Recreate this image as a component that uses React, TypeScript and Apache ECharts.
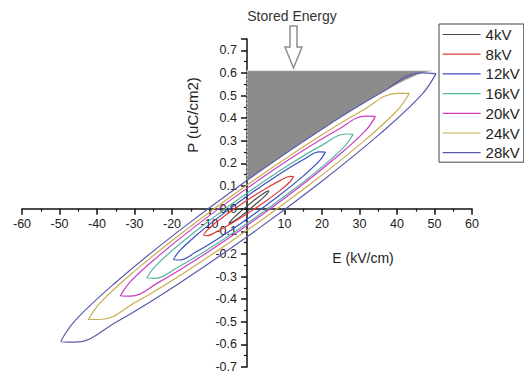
import React, { useEffect, useRef } from 'react';
import * as echarts from 'echarts';

// ---- Data (E in kV/cm, P in uC/cm2) ----
const voltages = ['4kV', '8kV', '12kV', '16kV', '20kV', '24kV', '28kV'];

const loop4kV = [[5.9,0.079],[5.49,0.078],[4.33,0.066],[2.6,0.046],[0.55,0.019],[-1.5,-0.01],[-3.23,-0.035],[-4.39,-0.055],[-4.8,-0.065],[-4.39,-0.064],[-3.23,-0.052],[-1.5,-0.032],[0.55,-0.005],[2.6,0.024],[4.33,0.049],[5.49,0.069],[5.9,0.079]];
const loop8kV = [[12.45,0.142],[11.54,0.143],[8.93,0.125],[5.05,0.089],[0.45,0.042],[-4.15,-0.01],[-8.03,-0.058],[-10.64,-0.096],[-11.55,-0.118],[-10.64,-0.119],[-8.03,-0.101],[-4.15,-0.065],[0.45,-0.018],[5.05,0.034],[8.93,0.082],[11.54,0.12],[12.45,0.142]];
const loop12kV = [[20.9,0.25],[19.36,0.251],[14.97,0.216],[8.41,0.15],[0.65,0.063],[-7.11,-0.032],[-13.67,-0.12],[-18.06,-0.188],[-19.6,-0.226],[-18.06,-0.227],[-13.67,-0.192],[-7.11,-0.126],[0.65,-0.039],[8.41,0.056],[14.97,0.144],[19.36,0.212],[20.9,0.25]];
const loop16kV = [[28.3,0.329],[26.21,0.33],[20.24,0.283],[11.33,0.195],[0.8,0.078],[-9.73,-0.049],[-18.64,-0.166],[-24.61,-0.257],[-26.7,-0.307],[-24.61,-0.308],[-18.64,-0.261],[-9.73,-0.173],[0.8,-0.056],[11.33,0.071],[20.24,0.188],[26.21,0.279],[28.3,0.329]];
const loop20kV = [[34.25,0.408],[31.67,0.409],[24.29,0.35],[13.27,0.239],[0.25,0.093],[-12.77,-0.065],[-23.79,-0.212],[-31.17,-0.324],[-33.75,-0.386],[-31.17,-0.387],[-23.79,-0.328],[-12.77,-0.217],[0.25,-0.071],[13.27,0.087],[24.29,0.234],[31.67,0.346],[34.25,0.408]];
const loop24kV = [[43.3,0.51],[40.05,0.51],[30.76,0.434],[16.89,0.294],[0.5,0.11],[-15.89,-0.089],[-29.76,-0.273],[-39.05,-0.414],[-42.3,-0.49],[-39.05,-0.49],[-29.76,-0.414],[-15.89,-0.274],[0.5,-0.09],[16.89,0.109],[30.76,0.293],[40.05,0.434],[43.3,0.51]];
const loop28kV = [[50.4,0.597],[46.6,0.6],[35.75,0.512],[19.55,0.347],[0.4,0.13],[-18.75,-0.106],[-34.95,-0.325],[-45.8,-0.494],[-49.6,-0.587],[-45.8,-0.59],[-34.95,-0.502],[-18.75,-0.337],[0.4,-0.12],[19.55,0.116],[35.75,0.335],[46.6,0.504],[50.4,0.597]];

const loops = [loop4kV, loop8kV, loop12kV, loop16kV, loop20kV, loop24kV, loop28kV];

// Stored energy region: bounded by P = Pmax, the P axis, and the upper branch of the 28kV loop
const storedEnergyBoundary = [[0,0.61],[49.4,0.61],[46.6,0.6],[41.95,0.566],[35.75,0.512],[28.2,0.438],[19.55,0.347],[10.15,0.243],[0.4,0.13],[0,0.13]];

const xTicks = { min: -60, max: 60, step: 10 };
const yTicks = { min: -0.7, max: 0.75, step: 0.1 };

// ---- Styles / layout ----
const FONT = "'Liberation Sans', Arial, Helvetica, sans-serif";
const lineColors = ['#4a4a4a', '#e03a3a', '#3a4fc0', '#55b5a2', '#cc3cc4', '#c9ae52', '#5a5aa8'];
const AXIS = '#111';
const GRID = { left: 22, right: 52, top: 39, bottom: 11 };
const W = 524;
const H = 378;

export default function App() {
  const ref = useRef<HTMLDivElement>(null);
  useEffect(() => {
    const chart = echarts.init(ref.current!, null, { renderer: 'svg' });
    const plotW = W - GRID.left - GRID.right;
    const plotH = H - GRID.top - GRID.bottom;
    // move the axes (line, ticks, labels) onto the zero lines
    const xZeroFromLeft = (plotW * (0 - xTicks.min)) / (xTicks.max - xTicks.min);
    const yZeroFromBottom = (plotH * (0 - yTicks.min)) / (yTicks.max - yTicks.min);
    const option: any = {
      animation: false,
      backgroundColor: '#fff',
      grid: { ...GRID, containLabel: false, outerBoundsMode: 'none' },
      xAxis: {
        type: 'value',
        position: 'bottom',
        offset: -yZeroFromBottom,
        min: xTicks.min,
        max: xTicks.max,
        interval: xTicks.step,
        axisLine: { onZero: false, lineStyle: { color: AXIS, width: 1.5 } },
        axisTick: { show: true, length: 6, lineStyle: { color: AXIS, width: 1.5 } },
        minorTick: { show: true, splitNumber: 2, length: 3, lineStyle: { color: AXIS, width: 1.2 } },
        splitLine: { show: false },
        axisLabel: {
          margin: 9,
          fontSize: 12.5,
          color: '#222',
          fontFamily: FONT,
          formatter: (v: number) => (v === 0 ? '' : String(v)),
        },
      },
      yAxis: {
        type: 'value',
        position: 'left',
        offset: -xZeroFromLeft,
        min: yTicks.min,
        max: yTicks.max,
        interval: yTicks.step,
        axisLine: { onZero: false, lineStyle: { color: AXIS, width: 1.5 } },
        axisTick: { show: true, length: 6, lineStyle: { color: AXIS, width: 1.5 } },
        minorTick: { show: true, splitNumber: 2, length: 3, lineStyle: { color: AXIS, width: 1.2 } },
        splitLine: { show: false },
        axisLabel: {
          margin: 10,
          fontSize: 12.5,
          color: '#222',
          fontFamily: FONT,
          formatter: (v: number) => (Math.abs(v) > 0.72 ? '' : v.toFixed(1)),
        },
      },
      legend: {
        data: voltages,
        orient: 'vertical',
        left: 439,
        top: 24,
        itemWidth: 38,
        itemHeight: 14,
        itemGap: 4.7,
        padding: [3, 4, 2, 3],
        borderColor: '#444',
        borderWidth: 1,
        backgroundColor: '#fff',
        itemStyle: { opacity: 0, borderWidth: 0 },
        lineStyle: { width: 1.2, opacity: 1 },
        textStyle: { fontSize: 15, lineHeight: 14, color: '#222', fontFamily: FONT },
      },
      series: [
        {
          type: 'custom',
          name: 'Stored Energy',
          coordinateSystem: 'cartesian2d',
          silent: true,
          z: 1,
          data: [[0, 0]],
          renderItem: (params: any, api: any) => ({
            type: 'polygon',
            shape: { points: storedEnergyBoundary.map((p) => api.coord(p)) },
            style: { fill: '#8c8c8c', stroke: '#e0e0e0', lineWidth: 1, lineDash: [2, 2] },
          }),
        },
        ...voltages.map((name, i) => ({
          name,
          type: 'line',
          data: loops[i],
          smooth: 0.4,
          symbol: 'none',
          showSymbol: false,
          z: 3,
          lineStyle: { color: lineColors[i], width: 1.2 },
          itemStyle: { color: lineColors[i] },
        })),
      ],
      graphic: [
        {
          type: 'text',
          x: 292,
          y: 16,
          style: { text: 'Stored Energy', fill: '#333', fontSize: 14, fontFamily: FONT, textAlign: 'center', textVerticalAlign: 'middle' },
        },
        {
          type: 'polygon',
          z: 100,
          shape: { points: [[290, 26], [297, 26], [297, 47], [302, 47], [293.5, 68], [285, 47], [290, 47]] },
          style: { fill: '#fff', stroke: '#8f8f8f', lineWidth: 1.5 },
        },
        {
          type: 'text',
          x: 192,
          y: 115,
          rotation: Math.PI / 2,
          style: { text: 'P (uC/cm2)', fill: '#222', fontSize: 15, fontFamily: FONT, textAlign: 'center', textVerticalAlign: 'middle' },
        },
        {
          type: 'text',
          x: 363,
          y: 258,
          style: { text: 'E (kV/cm)', fill: '#222', fontSize: 14, fontFamily: FONT, textAlign: 'center', textVerticalAlign: 'middle' },
        },
      ],
    };
    chart.setOption(option);
    return () => chart.dispose();
  }, []);
  return <div ref={ref} style={{ position: 'absolute', left: 0, top: 0, width: W, height: H }} />;
}
